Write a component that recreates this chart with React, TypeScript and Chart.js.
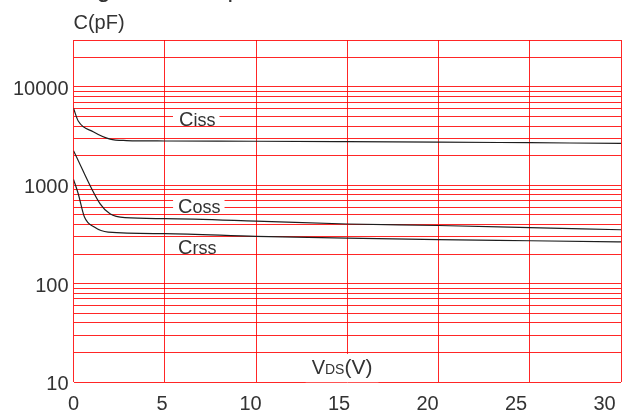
import { useEffect, useRef } from 'react';
import { Chart, registerables } from 'chart.js';

Chart.register(...registerables);

// ---- data ----
const X_TICKS = [0, 5, 10, 15, 20, 25, 30];
const X_MIN = 0;
const X_MAX = 30;
const X_LABEL_MAX = 30.93;
const Y_MIN = 10;
const Y_MAX = 30000;
const Y_DECADES = [10, 100, 1000, 10000];
const Y_MULTIPLIERS = [1, 2, 3, 4, 5, 6, 7, 8, 9];
const Y_LABELS = [10, 100, 1000, 10000];

const CISS_X = [0, 0.26, 1.08, 2, 2.9, 5, 10, 15, 20, 25, 30];
const CISS_Y = [6070, 4500, 3500, 2950, 2850, 2820, 2805, 2780, 2750, 2710, 2670];

const COSS_X = [0, 1.45, 2, 2.82, 5, 10, 15, 20, 25, 30];
const COSS_Y = [2250, 650, 513, 468, 458, 433, 404, 390, 371, 353];

const CRSS_X = [0, 0.26, 0.6, 1.14, 1.9, 5, 10, 15, 20, 25, 30];
const CRSS_Y = [1150, 820, 475, 376, 334, 322, 303, 290, 280, 273, 266];

const FONT = '"Liberation Sans", Arial, sans-serif';
const TEXT = '#333333';
const GRID = 'rgba(255,0,0,0.85)';
const LINE = '#1e1e1e';

type Part = [string, number];
type Annot = { parts: Part[]; x: number; y: number; box: [number, number, number, number] };

// box: [padLeft, padRight, topAboveBaseline, bottomAboveBaseline]
const ANNOTATIONS: Annot[] = [
  { parts: [['C', 20], ['iss', 18]], x: 5.78, y: 4000, box: [6, 4, 15.5, 1.5] },
  { parts: [['C', 20], ['oss', 18]], x: 5.73, y: 518, box: [5, 4, 15.5, 1] },
  { parts: [['C', 20], ['rss', 18]], x: 5.73, y: 202, box: [5, 4, 15.5, 1] },
  { parts: [['V', 20], ['DS', 14], ['(V)', 21]], x: 13.05, y: 12, box: [6, 6, 20.3, -8] },
];

const Y_TICK_VALUES = [
  ...Y_DECADES.flatMap((d) => Y_MULTIPLIERS.map((m) => d * m)).filter((v) => v <= Y_MAX),
  Y_MAX,
].filter((v, i, a) => a.indexOf(v) === i);

const toPoints = (xs: number[], ys: number[]) => xs.map((x, i) => ({ x, y: ys[i] }));

const overlay = {
  id: 'overlay',
  beforeDatasetsDraw(chart: any) {
    const ctx = chart.ctx as CanvasRenderingContext2D;
    const xs = chart.scales.x;
    const ys = chart.scales.y;
    ctx.save();
    ctx.textAlign = 'left';
    ctx.textBaseline = 'alphabetic';
    for (const a of ANNOTATIONS) {
      const px = xs.getPixelForValue(a.x);
      const py = ys.getPixelForValue(a.y);
      let w = 0;
      for (const [t, s] of a.parts) {
        ctx.font = `${s}px ${FONT}`;
        w += ctx.measureText(t).width;
      }
      ctx.fillStyle = '#ffffff';
      ctx.fillRect(px - a.box[0], py - a.box[2], w + a.box[0] + a.box[1], a.box[2] - a.box[3]);
      ctx.fillStyle = TEXT;
      let cx = px;
      for (const [t, s] of a.parts) {
        ctx.font = `${s}px ${FONT}`;
        ctx.fillText(t, cx, py);
        cx += ctx.measureText(t).width;
      }
    }
    ctx.restore();
  },
  afterDraw(chart: any) {
    const ctx = chart.ctx as CanvasRenderingContext2D;
    const left = chart.chartArea.left;
    ctx.save();
    ctx.fillStyle = TEXT;
    ctx.textAlign = 'left';
    ctx.textBaseline = 'alphabetic';
    ctx.font = `20px ${FONT}`;
    ctx.fillText('C(pF)', left, 28.8);
    ctx.font = `25px ${FONT}`;
    ctx.fillText('Figure 10. Capacitance', left + 2.5, -3);
    ctx.restore();
  },
};

export default function App() {
  const ref = useRef<HTMLCanvasElement | null>(null);
  useEffect(() => {
    if (!ref.current) return;
    const tickFont = { family: FONT, size: 20 };
    const chart = new Chart(ref.current, {
      type: 'line',
      data: {
        datasets: [
          { label: 'Ciss', data: toPoints(CISS_X, CISS_Y) },
          { label: 'Coss', data: toPoints(COSS_X, COSS_Y) },
          { label: 'Crss', data: toPoints(CRSS_X, CRSS_Y) },
        ].map((d) => ({
          ...d,
          borderColor: LINE,
          backgroundColor: LINE,
          borderWidth: 1.2,
          pointRadius: 0,
          fill: false,
          cubicInterpolationMode: 'monotone' as const,
          xAxisID: 'x',
          yAxisID: 'y',
        })),
      },
      options: {
        animation: false,
        responsive: false,
        layout: { padding: { top: 40, right: 1, left: 0, bottom: 0 } },
        plugins: {
          legend: { display: false },
          tooltip: { enabled: false },
          title: { display: false },
        },
        scales: {
          x: {
            type: 'linear',
            position: 'bottom',
            min: X_MIN,
            max: X_MAX,
            afterBuildTicks: (s: any) => {
              s.ticks = X_TICKS.map((v) => ({ value: v }));
            },
            ticks: { display: false },
            grid: { color: GRID, lineWidth: 1, drawTicks: false },
            border: { display: false },
            afterFit: (s: any) => {
              s.height = 0;
            },
          },
          x2: {
            type: 'linear',
            position: 'bottom',
            min: X_MIN,
            max: X_LABEL_MAX,
            afterBuildTicks: (s: any) => {
              s.ticks = X_TICKS.map((v) => ({ value: v }));
            },
            ticks: { color: TEXT, font: tickFont, padding: 0, maxRotation: 0, autoSkip: false },
            grid: { display: false, drawTicks: true, tickLength: 10, color: 'rgba(0,0,0,0)' },
            border: { display: false },
            afterFit: (s: any) => {
              s.height = 32;
            },
          },
          y: {
            type: 'logarithmic',
            min: Y_MIN,
            max: Y_MAX,
            afterBuildTicks: (s: any) => {
              s.ticks = Y_TICK_VALUES.map((v) => ({ value: v }));
            },
            ticks: {
              color: TEXT,
              font: tickFont,
              padding: 5,
              labelOffset: 2.5,
              autoSkip: false,
              callback: (v: any) => (Y_LABELS.includes(Number(v)) ? String(v) : ''),
            },
            grid: { color: GRID, lineWidth: 1, drawTicks: false },
            border: { display: false },
            afterFit: (s: any) => {
              s.width = 73.5;
            },
          },
        },
      } as any,
      plugins: [overlay],
    });
    return () => chart.destroy();
  }, []);
  return (
    <div style={{ position: 'fixed', left: 0, top: 0, width: 622, height: 414, background: '#fff' }}>
      <canvas ref={ref} width={622} height={414} style={{ display: 'block' }} />
    </div>
  );
}
